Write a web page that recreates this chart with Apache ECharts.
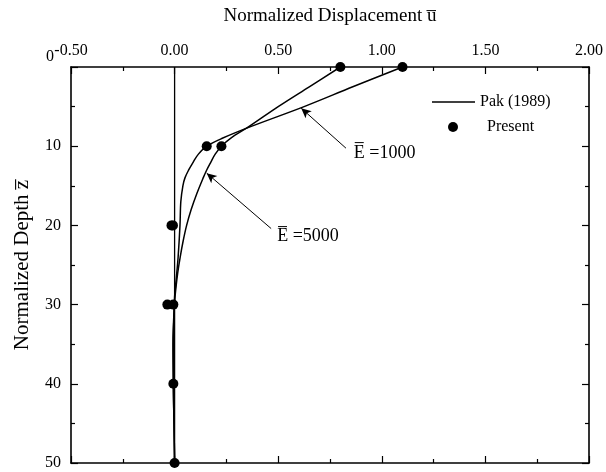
<!DOCTYPE html>
<html>
<head>
<meta charset="utf-8">
<script src="https://cdn.jsdelivr.net/npm/echarts@6/dist/echarts.min.js"></script>
<style>
  html, body { margin: 0; padding: 0; background: #fff; }
  #chart { width: 606px; height: 472px; }
</style>
</head>
<body>
<div id="chart"></div>
<script>
// Pile displacement profiles: normalized displacement vs. normalized depth
const depthE1000 = [0, 2.5, 5, 7.5, 9, 10, 11, 12, 13, 14, 15, 17, 20, 24, 27, 29, 32, 35, 40, 45, 50];
const dispE1000  = [1.10, 0.86, 0.625, 0.37, 0.23, 0.155, 0.115, 0.09, 0.068, 0.05, 0.04, 0.03, 0.026, 0.017, 0.007, 0.0, -0.004, -0.006, -0.006, -0.003, 0.0];

const depthE5000 = [0, 2.5, 5, 7.5, 9, 10, 11, 12, 13, 14, 16, 18, 20, 22, 24, 26, 28, 30, 35, 40, 45, 50];
const dispE5000  = [0.80, 0.65, 0.50, 0.36, 0.27, 0.226, 0.196, 0.175, 0.155, 0.138, 0.107, 0.08, 0.058, 0.041, 0.027, 0.015, 0.006, -0.001, -0.008, -0.006, -0.003, 0.0];

const depthPresent = [0, 0, 10, 10, 20, 20, 30, 30, 40, 50];
const dispPresent  = [0.80, 1.10, 0.155, 0.226, -0.015, -0.008, -0.035, -0.006, -0.006, 0.0];

const xTicks = [-0.5, 0, 0.5, 1.0, 1.5, 2.0];
const yTicks = [0, 10, 20, 30, 40, 50];

const zip = (us, zs) => us.map((u, i) => [u, zs[i]]);

const FONT = 'Liberation Serif';
const BLACK = '#000';

const chart = echarts.init(document.getElementById('chart'), null, { renderer: 'canvas' });

const frameAxis = {
  axisLine: { show: true, onZero: false, lineStyle: { color: BLACK, width: 1.6 } },
  axisTick: { show: true, inside: true, length: 7, lineStyle: { color: BLACK, width: 1.2 } },
  minorTick: { show: true, splitNumber: 2, length: 4, lineStyle: { color: BLACK, width: 1.2 } },
  splitLine: { show: false }
};

const option = {
  animation: false,
  backgroundColor: '#fff',
  color: [BLACK],
  grid: { left: 71, right: 15, top: 67, bottom: 9, containLabel: false },
  xAxis: [
    Object.assign({
      type: 'value', position: 'top',
      min: xTicks[0], max: xTicks[xTicks.length - 1], interval: 0.5,
      name: 'Normalized Displacement u\u0305',
      nameLocation: 'middle', nameGap: 41,
      nameTextStyle: { fontFamily: FONT, fontSize: 19, color: BLACK },
      axisLabel: { fontFamily: FONT, fontSize: 16, color: BLACK, margin: 8,
                   formatter: v => v.toFixed(2) }
    }, frameAxis),
    Object.assign({
      type: 'value', position: 'bottom',
      min: xTicks[0], max: xTicks[xTicks.length - 1], interval: 0.5,
      axisLabel: { show: false }
    }, frameAxis)
  ],
  yAxis: [
    Object.assign({
      type: 'value', position: 'left', inverse: true,
      min: yTicks[0], max: yTicks[yTicks.length - 1], interval: 10,
      name: 'Normalized Depth z\u0305',
      nameLocation: 'middle', nameGap: 38,
      nameTextStyle: { fontFamily: FONT, fontSize: 21, color: BLACK },
      axisLabel: { fontFamily: FONT, fontSize: 16, color: BLACK, margin: 10,
                   formatter: v => v === 0 ? '{top|0}' : String(v),
                   rich: { top: { fontFamily: FONT, fontSize: 16, color: BLACK, padding: [0, 7, 20, 0] } } }
    }, frameAxis),
    Object.assign({
      type: 'value', position: 'right', inverse: true,
      min: yTicks[0], max: yTicks[yTicks.length - 1], interval: 10,
      axisLabel: { show: false }
    }, frameAxis)
  ],
  legend: [
    {
      data: [{ name: 'Pak (1989)', icon: 'rect' }], orient: 'vertical',
      left: 432, top: 94, padding: 0,
      itemWidth: 43, itemHeight: 1.5,
      itemStyle: { color: BLACK },
      textStyle: { fontFamily: FONT, fontSize: 16, color: BLACK }
    },
    {
      data: [{ name: 'Present', icon: 'circle' }], orient: 'vertical',
      left: 448, top: 119, padding: 0,
      itemWidth: 10, itemHeight: 10,
      itemStyle: { color: BLACK },
      textStyle: { fontFamily: FONT, fontSize: 16, color: BLACK, padding: [0, 0, 0, 24] }
    }
  ],
  series: [
    {
      name: 'Pak (1989)', type: 'line', smooth: 0.35, symbol: 'none',
      data: zip(dispE1000, depthE1000),
      itemStyle: { color: BLACK },
      lineStyle: { color: BLACK, width: 1.5 },
      markLine: {
        silent: true, symbol: ['none', 'arrow'], symbolSize: [7, 10],
        lineStyle: { color: BLACK, width: 1, type: 'solid' }, label: { show: false },
        data: [[{ coord: [0.827, 10.25] }, { coord: [0.611, 5.2] }]]
      }
    },
    {
      name: 'Pak (1989)', type: 'line', smooth: 0.35, symbol: 'none',
      data: zip(dispE5000, depthE5000),
      itemStyle: { color: BLACK },
      lineStyle: { color: BLACK, width: 1.5 },
      markLine: {
        silent: true, symbol: ['none', 'arrow'], symbolSize: [7, 10],
        lineStyle: { color: BLACK, width: 1, type: 'solid' }, label: { show: false },
        data: [[{ coord: [0.466, 20.4] }, { coord: [0.155, 13.4] }]]
      }
    },
    {
      // zero-displacement reference line
      name: 'zero', type: 'line', symbol: 'none', silent: true,
      data: [[0, yTicks[0]], [0, yTicks[yTicks.length - 1]]],
      lineStyle: { color: BLACK, width: 1.3 }
    },
    {
      name: 'Present', type: 'scatter', symbol: 'circle', symbolSize: 10,
      data: zip(dispPresent, depthPresent),
      itemStyle: { color: BLACK, opacity: 1 }
    }
  ]
};

chart.setOption(option);

// Stiffness labels placed in data coordinates
const labels = [
  { text: 'E\u0305 =1000', at: [0.865, 10.9] },
  { text: 'E\u0305 =5000', at: [0.495, 21.4] }
];
chart.setOption({
  graphic: labels.map(l => {
    const p = chart.convertToPixel({ xAxisIndex: 0, yAxisIndex: 0 }, l.at);
    return {
      type: 'text', x: p[0], y: p[1],
      style: { text: l.text, font: '18px "Liberation Serif"', fill: BLACK, verticalAlign: 'middle' }
    };
  })
});
</script>
</body>
</html>
